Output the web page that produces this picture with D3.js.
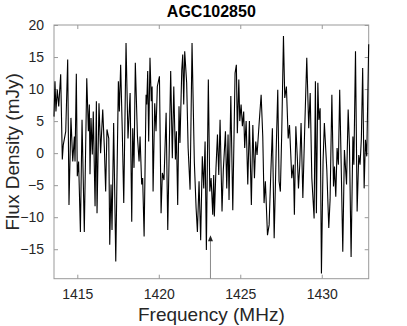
<!DOCTYPE html>
<html><head><meta charset="utf-8">
<script src="https://cdn.jsdelivr.net/npm/d3@7"></script>
<style>body{margin:0;background:#fff}svg{display:block}</style>
</head><body>
<svg id="c" width="407" height="326"></svg>
<script>
const title = "AGC102850";
const xLabel = "Frequency (MHz)";
const yLabel = "Flux Density (mJy)";
const xTicks = [1415, 1420, 1425, 1430];
const yTicks = [-15, -10, -5, 0, 5, 10, 15, 20];
const xDomain = [1413.57, 1432.88];
const yDomain = [-19.6, 20];
const arrowFreq = [1423.17];
const arrowTip = [-12.8];
const freq = [
1413.57,1413.63,1413.69,1413.77,1413.86,1413.98,1414.08,1414.14,1414.29,1414.41,1414.49,1414.61,1414.72,1414.82,1414.86,1414.94,1415.00,1415.08,1415.19,1415.29,1415.43,1415.58,1415.68,1415.74,1415.78,1415.84,1415.92,1415.98,1416.09,1416.17,1416.21,1416.33,1416.43,1416.56,1416.66,1416.74,1416.82,1416.93,1416.99,1417.07,1417.13,1417.23,1417.36,1417.52,1417.58,1417.66,1417.76,1417.85,1417.99,1418.11,1418.24,1418.34,
1418.40,1418.48,1418.56,1418.69,1418.79,1418.85,1418.95,1419.01,1419.10,1419.22,1419.26,1419.32,1419.38,1419.46,1419.54,1419.59,1419.65,1419.75,1419.83,1419.91,1420.04,1420.14,1420.22,1420.32,1420.45,1420.55,1420.73,1420.83,1420.92,1421.02,1421.08,1421.16,1421.24,1421.30,1421.41,1421.47,1421.53,1421.59,1421.71,1421.80,1421.92,1422.04,1422.18,1422.29,1422.37,1422.47,1422.57,1422.67,1422.76,1422.84,1422.92,1423.04,1423.13,1423.21,
1423.31,1423.37,1423.41,1423.51,1423.60,1423.68,1423.76,1423.88,1423.96,1424.09,1424.17,1424.25,1424.31,1424.42,1424.54,1424.68,1424.76,1424.82,1424.91,1424.97,1425.05,1425.13,1425.21,1425.27,1425.36,1425.46,1425.56,1425.68,1425.77,1425.87,1425.95,1426.03,1426.15,1426.28,1426.38,1426.46,1426.54,1426.67,1426.77,1426.87,1426.97,1427.08,1427.20,1427.30,1427.38,1427.46,1427.55,1427.65,1427.73,1427.83,1427.94,1428.02,
1428.16,1428.26,1428.32,1428.41,1428.51,1428.57,1428.65,1428.73,1428.84,1428.94,1429.08,1429.20,1429.29,1429.39,1429.53,1429.61,1429.67,1429.76,1429.82,1429.90,1429.98,1430.08,1430.16,1430.31,1430.43,1430.51,1430.62,1430.72,1430.78,1430.86,1430.94,1431.02,1431.10,1431.19,1431.29,1431.39,1431.52,1431.62,1431.70,1431.80,1431.91,1431.97,1432.07,1432.17,1432.27,1432.35,1432.43,1432.51,1432.60,1432.68,1432.76,1432.88
];
const flux = [
5.7,11.2,6.5,9.9,7.3,12.3,-1.0,1.3,3.4,14.6,-8.1,5.5,-1.3,2.6,-1.3,12.4,-3.6,-1.3,-12.3,5.2,-12.3,11.7,3.4,7.6,-3.3,5.5,-0.2,6.5,-8.3,8.1,-9.4,7.8,0,6.8,0.8,-6.0,3.7,2.3,-14.3,-4.9,-12.0,4.7,-16.9,11.2,6.5,13.8,3.4,-7.8,17.2,2.3,9.4,-10.7,
3.9,-2.3,14.1,2.6,-1.3,2.6,-4.9,-3.9,-13.0,9.1,7.6,12.8,1.8,14.9,8.1,10.4,-6.0,7.8,3.4,10.4,12.0,-9.4,-3.1,-4.2,6.3,-12.0,12.8,-0.8,10.4,-1.0,3.4,-8.1,7.3,1.6,13.0,15.4,7.6,15.9,11.0,0.8,-5.7,17.2,-1.3,-8.6,-12.3,-4.4,-13.6,-0.5,-5.5,1.8,-15.1,11.5,-6.0,-3.9,
-9.6,-3.4,-9.9,-2.3,2.9,-3.4,5.2,-9.1,-2.6,3.4,-5.5,2.9,-7.3,8.9,-8.9,12.5,13.8,3.1,11.5,5.0,7.6,4.2,6.5,0.8,5.0,-4.9,5.0,-8.1,4.4,-3.9,1.8,-0.3,4.4,9.1,2.6,-7.8,-4.4,-12.8,-11.2,-3.4,3.9,-13.3,0,9.9,-4.4,-6.0,3.9,18.3,8.6,10.4,2.3,4.4,
-3.9,-1.8,-9.6,4.2,-1.3,-5.5,-1.8,4.7,-7.0,2.6,14.9,3.9,9.4,-3.9,-10.2,11.2,-9.4,11.0,5.2,7.0,-18.8,-1.3,4.7,-2.6,-11.7,-7.3,9.1,-5.2,-2.1,-6.8,0.8,-1.8,9.9,-1.6,-15.4,0.5,-4.9,6.8,1.1,-16.2,2.6,-1.8,15.9,-9.1,-0.3,-1.8,2.3,13.3,-5.5,2.1,-0.5,17.0
];

const svg = d3.select("#c");
const L = 54, R = 368.7, T = 25, B = 278.7;
const x = d3.scaleLinear().domain(xDomain).range([L, R]);
const y = d3.scaleLinear().domain(yDomain).range([B, T]);
const axisCol = "#999", textCol = "#262626";
const font = "Liberation Sans, Arial, Helvetica, sans-serif";

function styleAxis(g) {
  g.select(".domain").remove();
  g.selectAll(".tick line").attr("stroke", axisCol);
  g.selectAll(".tick text").attr("fill", textCol).style("font-family", font).style("font-size", "14px");
}
// bottom
svg.append("g").attr("transform", `translate(0,${B})`)
  .call(d3.axisBottom(x).tickValues(xTicks).tickSize(-4).tickPadding(10).tickFormat(d3.format("d")))
  .call(styleAxis);
// top
svg.append("g").attr("transform", `translate(0,${T})`)
  .call(d3.axisTop(x).tickValues(xTicks).tickSize(-4).tickFormat(""))
  .call(styleAxis);
// left
svg.append("g").attr("transform", `translate(${L},0)`)
  .call(d3.axisLeft(y).tickValues(yTicks).tickSize(-4).tickPadding(10).tickFormat(d3.format("d")))
  .call(styleAxis);
// right
svg.append("g").attr("transform", `translate(${R},0)`)
  .call(d3.axisRight(y).tickValues(yTicks).tickSize(-4).tickFormat(""))
  .call(styleAxis);
// box
svg.append("rect").attr("x", L).attr("y", T).attr("width", R - L).attr("height", B - T)
  .attr("fill", "none").attr("stroke", axisCol).attr("stroke-width", 1);

// data line
const pts = freq.map((f, i) => [f, flux[i]]);
svg.append("path").datum(pts)
  .attr("d", d3.line().x(d => x(d[0])).y(d => y(d[1])))
  .attr("fill", "none").attr("stroke", "#000").attr("stroke-width", 1.1).attr("stroke-linejoin", "miter");

// arrow
arrowFreq.forEach((f, i) => {
  const ax = x(f), tip = y(arrowTip[i]);
  svg.append("line").attr("x1", ax).attr("x2", ax).attr("y1", B).attr("y2", tip + 3)
    .attr("stroke", "#888").attr("stroke-width", 1);
  svg.append("path").attr("d", `M${ax},${tip} L${ax - 2.5},${tip + 6} L${ax + 2.5},${tip + 6} Z`)
    .attr("fill", "#222");
});

// title and labels
svg.append("text").attr("x", (L + R) / 2).attr("y", 17).attr("text-anchor", "middle")
  .style("font-family", font).style("font-size", "16px").style("font-weight", "bold")
  .attr("fill", "#000").text(title);
svg.append("text").attr("x", (L + R) / 2).attr("y", 321).attr("text-anchor", "middle")
  .style("font-family", font).style("font-size", "19px").attr("fill", textCol).text(xLabel);
svg.append("text").attr("transform", `translate(19,${(T + B) / 2}) rotate(-90)`).attr("text-anchor", "middle")
  .style("font-family", font).style("font-size", "19px").attr("fill", textCol).text(yLabel);
</script>
</body></html>
